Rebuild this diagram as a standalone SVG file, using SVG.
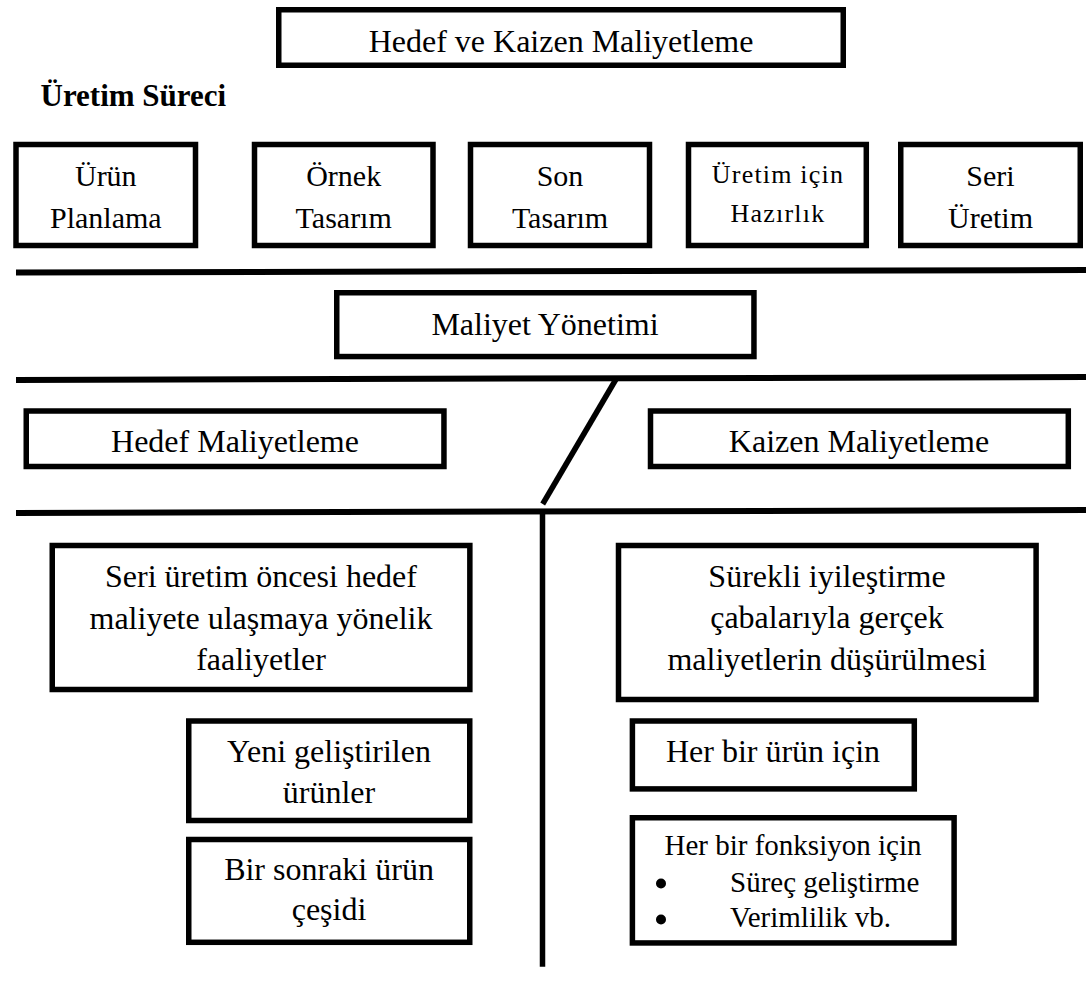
<svg xmlns="http://www.w3.org/2000/svg" width="1086" height="1001" viewBox="0 0 1086 1001">
  <defs>
    <style>
      .box { fill: #ffffff; stroke: #000000; stroke-width: 5.5; }
      .t { font-family: "Liberation Serif", "Times New Roman", serif; fill: #000000; text-anchor: middle; }
      .t32 { font-size: 32px; }
      .t30 { font-size: 30px; }
      .t29 { font-size: 29px; }
      .t26 { font-size: 26px; letter-spacing: 1.2px; }
      .lft { text-anchor: start; }
      .rule { stroke: #000000; stroke-width: 6; fill: none; }
      .div { stroke: #000000; stroke-width: 5.5; fill: none; }
    </style>
    <linearGradient id="fadeRule" x1="0" y1="0" x2="1" y2="0">
      <stop offset="0" stop-color="#b0b0b0"/>
      <stop offset="0.35" stop-color="#444444"/>
      <stop offset="1" stop-color="#000000"/>
    </linearGradient>
  </defs>
  <rect width="1086" height="1001" fill="#ffffff"/>

  <!-- separators and divider lines -->
  <g id="connectors">
    <line class="rule" x1="16" y1="272.5" x2="1086" y2="270"/>
    <line class="rule" x1="16" y1="380" x2="1086" y2="377"/>
    <line class="rule" x1="16" y1="513" x2="1086" y2="510"/>
    <line class="div" x1="616.7" y1="378" x2="542.7" y2="504"/>
    <line class="div" x1="542.5" y1="510" x2="542.5" y2="966.7"/>
    <line x1="410" y1="998.5" x2="1086" y2="998.5" stroke="url(#fadeRule)" stroke-width="5"/>
  </g>

  <g id="title">
    <rect class="box" x="278.75" y="9.75" width="564.5" height="55.5"/>
    <text class="t t32" x="561" y="52">Hedef ve Kaizen Maliyetleme</text>
  </g>

  <g id="process-label">
    <text class="t lft" x="40.5" y="106" font-size="31" font-weight="bold">Üretim Süreci</text>
  </g>

  <g id="urun-planlama">
    <rect class="box" x="16" y="144.5" width="179.5" height="101"/>
    <text class="t t30" x="105.8" y="186">Ürün</text>
    <text class="t t30" x="105.8" y="228">Planlama</text>
  </g>

  <g id="ornek-tasarim">
    <rect class="box" x="254.5" y="144.5" width="178.5" height="101"/>
    <text class="t t30" x="343.7" y="186">Örnek</text>
    <text class="t t30" x="343.7" y="228">Tasarım</text>
  </g>

  <g id="son-tasarim">
    <rect class="box" x="470.5" y="144.5" width="179" height="101"/>
    <text class="t t30" x="560" y="186">Son</text>
    <text class="t t30" x="560" y="228">Tasarım</text>
  </g>

  <g id="uretim-hazirlik">
    <rect class="box" x="688.5" y="144.5" width="177.8" height="101"/>
    <text class="t t26" x="778" y="183">Üretim için</text>
    <text class="t t26" x="778" y="222">Hazırlık</text>
  </g>

  <g id="seri-uretim">
    <rect class="box" x="900.75" y="144.5" width="179.5" height="101"/>
    <text class="t t30" x="990.5" y="186">Seri</text>
    <text class="t t30" x="990.5" y="228">Üretim</text>
  </g>

  <g id="maliyet-yonetimi">
    <rect class="box" x="336.75" y="292.75" width="417.2" height="63.8"/>
    <text class="t t32" x="545" y="335">Maliyet Yönetimi</text>
  </g>

  <g id="hedef-maliyetleme">
    <rect class="box" x="26.25" y="411" width="417.7" height="55.5"/>
    <text class="t t32" x="235" y="452">Hedef Maliyetleme</text>
  </g>

  <g id="kaizen-maliyetleme">
    <rect class="box" x="650.5" y="411" width="417.8" height="55.5"/>
    <text class="t t32" x="859" y="452">Kaizen Maliyetleme</text>
  </g>

  <g id="hedef-tanim">
    <rect class="box" x="52.25" y="545.5" width="417.6" height="144"/>
    <text class="t t32" x="261" y="587">Seri üretim öncesi hedef</text>
    <text class="t t32" x="261" y="629">maliyete ulaşmaya yönelik</text>
    <text class="t t32" x="261" y="670">faaliyetler</text>
  </g>

  <g id="yeni-urunler">
    <rect class="box" x="188.75" y="721" width="281" height="99.5"/>
    <text class="t t32" x="329" y="762">Yeni geliştirilen</text>
    <text class="t t32" x="329" y="803">ürünler</text>
  </g>

  <g id="sonraki-urun">
    <rect class="box" x="188.75" y="839.5" width="281" height="102.8"/>
    <text class="t t32" x="329" y="880">Bir sonraki ürün</text>
    <text class="t t32" x="329" y="920">çeşidi</text>
  </g>

  <g id="kaizen-tanim">
    <rect class="box" x="618.5" y="545.5" width="417.6" height="154"/>
    <text class="t t32" x="827" y="587">Sürekli iyileştirme</text>
    <text class="t t32" x="827" y="628">çabalarıyla gerçek</text>
    <text class="t t32" x="827" y="670">maliyetlerin düşürülmesi</text>
  </g>

  <g id="her-urun">
    <rect class="box" x="632.4" y="721" width="281.9" height="67.9"/>
    <text class="t t32" x="773" y="762">Her bir ürün için</text>
  </g>

  <g id="her-fonksiyon">
    <rect class="box" x="632.4" y="817.75" width="321.7" height="125.2"/>
    <text class="t t29" x="793" y="855">Her bir fonksiyon için</text>
    <circle cx="661" cy="883.5" r="5"/>
    <circle cx="661" cy="919.5" r="5"/>
    <text class="t t29 lft" x="730" y="892">Süreç geliştirme</text>
    <text class="t t29 lft" x="730" y="927">Verimlilik vb.</text>
  </g>
</svg>
